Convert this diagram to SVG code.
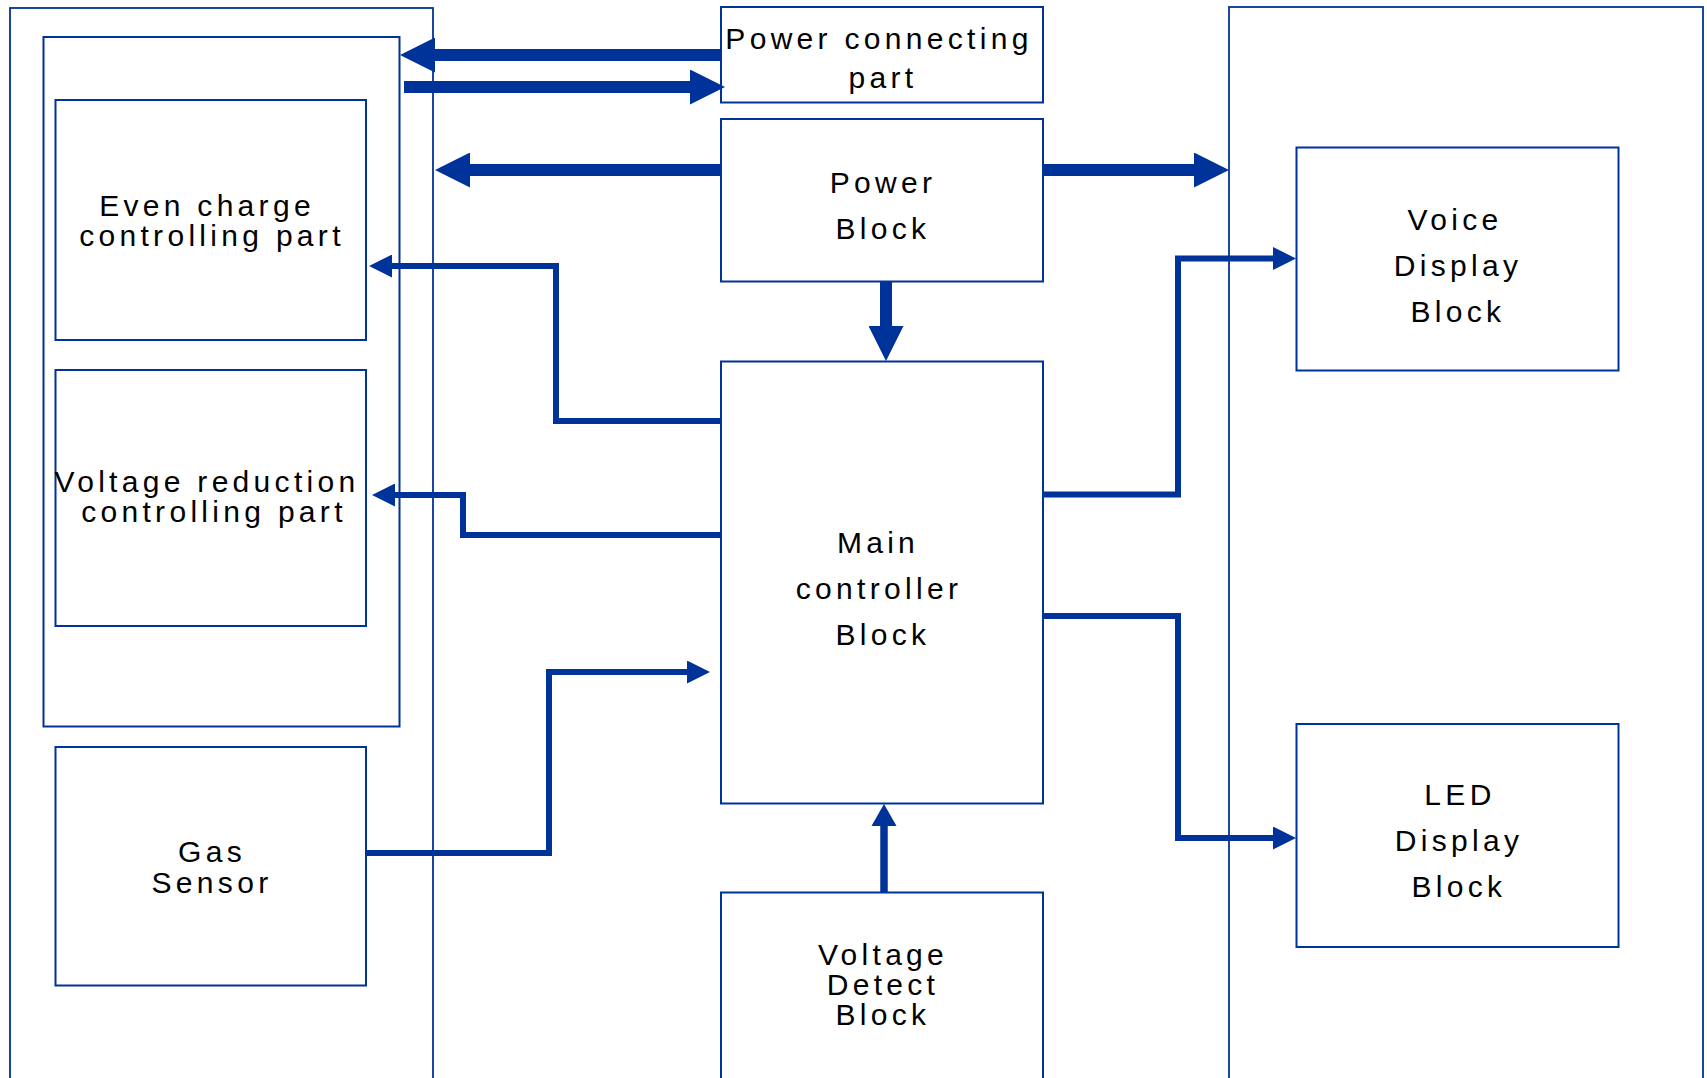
<svg xmlns="http://www.w3.org/2000/svg" width="1707" height="1078" viewBox="0 0 1707 1078">
<style>
.box{fill:none;stroke:#003399;stroke-width:2}
.frame{fill:none;stroke:#003399;stroke-width:1.8}
.big{fill:none;stroke:#003399;stroke-width:12;marker-end:url(#hb)}
.sm{fill:none;stroke:#003399;stroke-width:6;stroke-linejoin:miter;marker-end:url(#hs)}
.t{font-family:"Liberation Sans",Arial,sans-serif;font-size:30px;letter-spacing:4.3px;text-anchor:middle;fill:#000}
</style>
<defs>
<marker id="hb" markerUnits="userSpaceOnUse" viewBox="0 0 35 35" markerWidth="35" markerHeight="35" refX="0" refY="17.5" orient="auto">
<path d="M0,0 L35,17.5 L0,35 z" fill="#003399"/>
</marker>
<marker id="hs" markerUnits="userSpaceOnUse" viewBox="0 0 23 23" markerWidth="23" markerHeight="23" refX="0" refY="11.5" orient="auto">
<path d="M0,0 L23,11.5 L0,23 z" fill="#003399"/>
</marker>
</defs>
<rect width="1707" height="1078" fill="#fff"/>

<g id="connectors">
<path class="big" d="M721,55 H435"/>
<path class="big" d="M404,87 H690"/>
<path class="big" d="M721,170 H470"/>
<path class="big" d="M1043,170 H1194"/>
<path class="big" d="M886,281 V326"/>
<path class="sm" d="M721,421 H556 V266 H392"/>
<path class="sm" d="M721,535 H463 V495 H395"/>
<path class="sm" d="M366,853 H549 V672 H687"/>
<path class="sm" d="M1043,494.5 H1178 V258.5 H1273"/>
<path class="sm" d="M1043,616 H1178 V838 H1273"/>
<path fill="none" stroke="#003399" stroke-width="7.5" d="M884,892 V826"/>
<path d="M871.5,826 L884,804 L896.5,826 z" fill="#003399"/>
</g>

<g id="left-frame"><rect class="frame" x="10" y="8" width="423" height="1090"/></g>
<g id="battery-frame"><rect class="box" x="43.5" y="37" width="356" height="689.5"/></g>
<g id="even-charge">
<rect class="box" x="55.5" y="100" width="310.5" height="240"/>
<text class="t" x="207" y="216">Even charge</text>
<text class="t" x="212" y="246">controlling part</text>
</g>
<g id="voltage-reduction">
<rect class="box" x="55.5" y="370" width="310.5" height="256"/>
<text class="t" x="207" y="492">Voltage reduction</text>
<text class="t" x="214" y="522">controlling part</text>
</g>
<g id="gas-sensor">
<rect class="box" x="55.5" y="747" width="310.5" height="238.5"/>
<text class="t" x="212" y="862">Gas</text>
<text class="t" x="212" y="893">Sensor</text>
</g>
<g id="power-connecting">
<rect class="box" x="721" y="7" width="322" height="95.5"/>
<text class="t" x="879" y="49">Power connecting</text>
<text class="t" x="883" y="88">part</text>
</g>
<g id="power-block">
<rect class="box" x="721" y="119" width="322" height="162.5"/>
<text class="t" x="883" y="193">Power</text>
<text class="t" x="883" y="239">Block</text>
</g>
<g id="main-controller">
<rect class="box" x="721" y="361.5" width="322" height="442"/>
<text class="t" x="878" y="553">Main</text>
<text class="t" x="879" y="599">controller</text>
<text class="t" x="883" y="645">Block</text>
</g>
<g id="voltage-detect">
<rect class="box" x="721" y="892.5" width="322" height="200"/>
<text class="t" x="883" y="965">Voltage</text>
<text class="t" x="883" y="995">Detect</text>
<text class="t" x="883" y="1025">Block</text>
</g>
<g id="right-frame"><rect class="frame" x="1229" y="7" width="474" height="1090"/></g>
<g id="voice-display">
<rect class="box" x="1296.5" y="147.5" width="322" height="223"/>
<text class="t" x="1455" y="230">Voice</text>
<text class="t" x="1458" y="276">Display</text>
<text class="t" x="1458" y="322">Block</text>
</g>
<g id="led-display">
<rect class="box" x="1296.5" y="724" width="322" height="223"/>
<text class="t" x="1460" y="805">LED</text>
<text class="t" x="1459" y="851">Display</text>
<text class="t" x="1459" y="897">Block</text>
</g>
</svg>
